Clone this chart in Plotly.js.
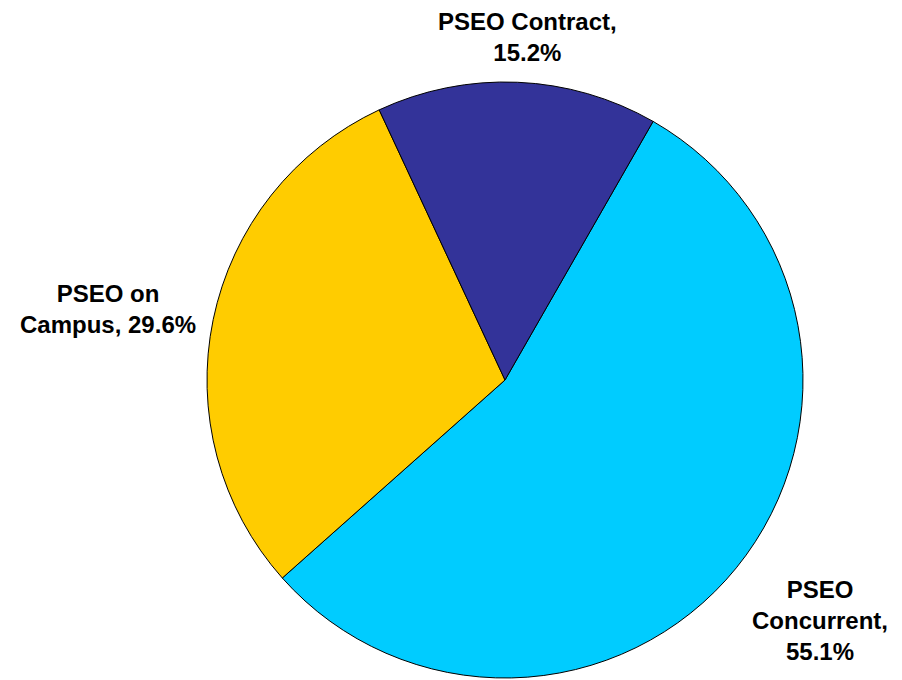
<!DOCTYPE html>
<html>
<head>
<meta charset="utf-8">
<script src="https://cdn.plot.ly/plotly-3.0.1.min.js"></script>
<style>html,body{margin:0;padding:0;background:#fff;}#chart{width:902px;height:680px;}</style>
</head>
<body>
<div id="chart"></div>
<script>
const categories = ["PSEO Concurrent", "PSEO on Campus", "PSEO Contract"];
const values = [55.1, 29.6, 15.2];
const colors = ["#00CCFF", "#FFCC00", "#333399"];
const labelTexts = ["PSEO<br>Concurrent,<br>55.1%", "PSEO on<br>Campus, 29.6%", "PSEO Contract,<br>15.2%"];
const labelPos = [[820, 620], [108, 309], [527, 37]];

const W = 902, H = 680;
const cx = 505, cy = 380, r = 298;

const trace = {
  type: "pie",
  labels: categories,
  values: values,
  sort: false,
  direction: "clockwise",
  rotation: 29.8,
  marker: {colors: colors, line: {color: "#000000", width: 1}},
  textinfo: "none",
  hoverinfo: "label+percent",
  domain: {x: [(cx - r) / W, (cx + r) / W], y: [1 - (cy + r) / H, 1 - (cy - r) / H]}
};

const annotations = labelTexts.map((t, i) => ({
  text: t,
  x: labelPos[i][0] / W,
  y: 1 - labelPos[i][1] / H,
  xref: "paper", yref: "paper",
  xanchor: "center", yanchor: "middle",
  showarrow: false,
  align: "center",
  font: {family: "Liberation Sans, Arial, sans-serif", size: 24, color: "#000000", weight: "bold"}
}));

Plotly.newPlot("chart", [trace], {
  width: W, height: H,
  margin: {l: 0, r: 0, t: 0, b: 0},
  showlegend: false,
  paper_bgcolor: "#ffffff",
  annotations: annotations
}, {displayModeBar: false, staticPlot: true});
</script>
</body>
</html>
